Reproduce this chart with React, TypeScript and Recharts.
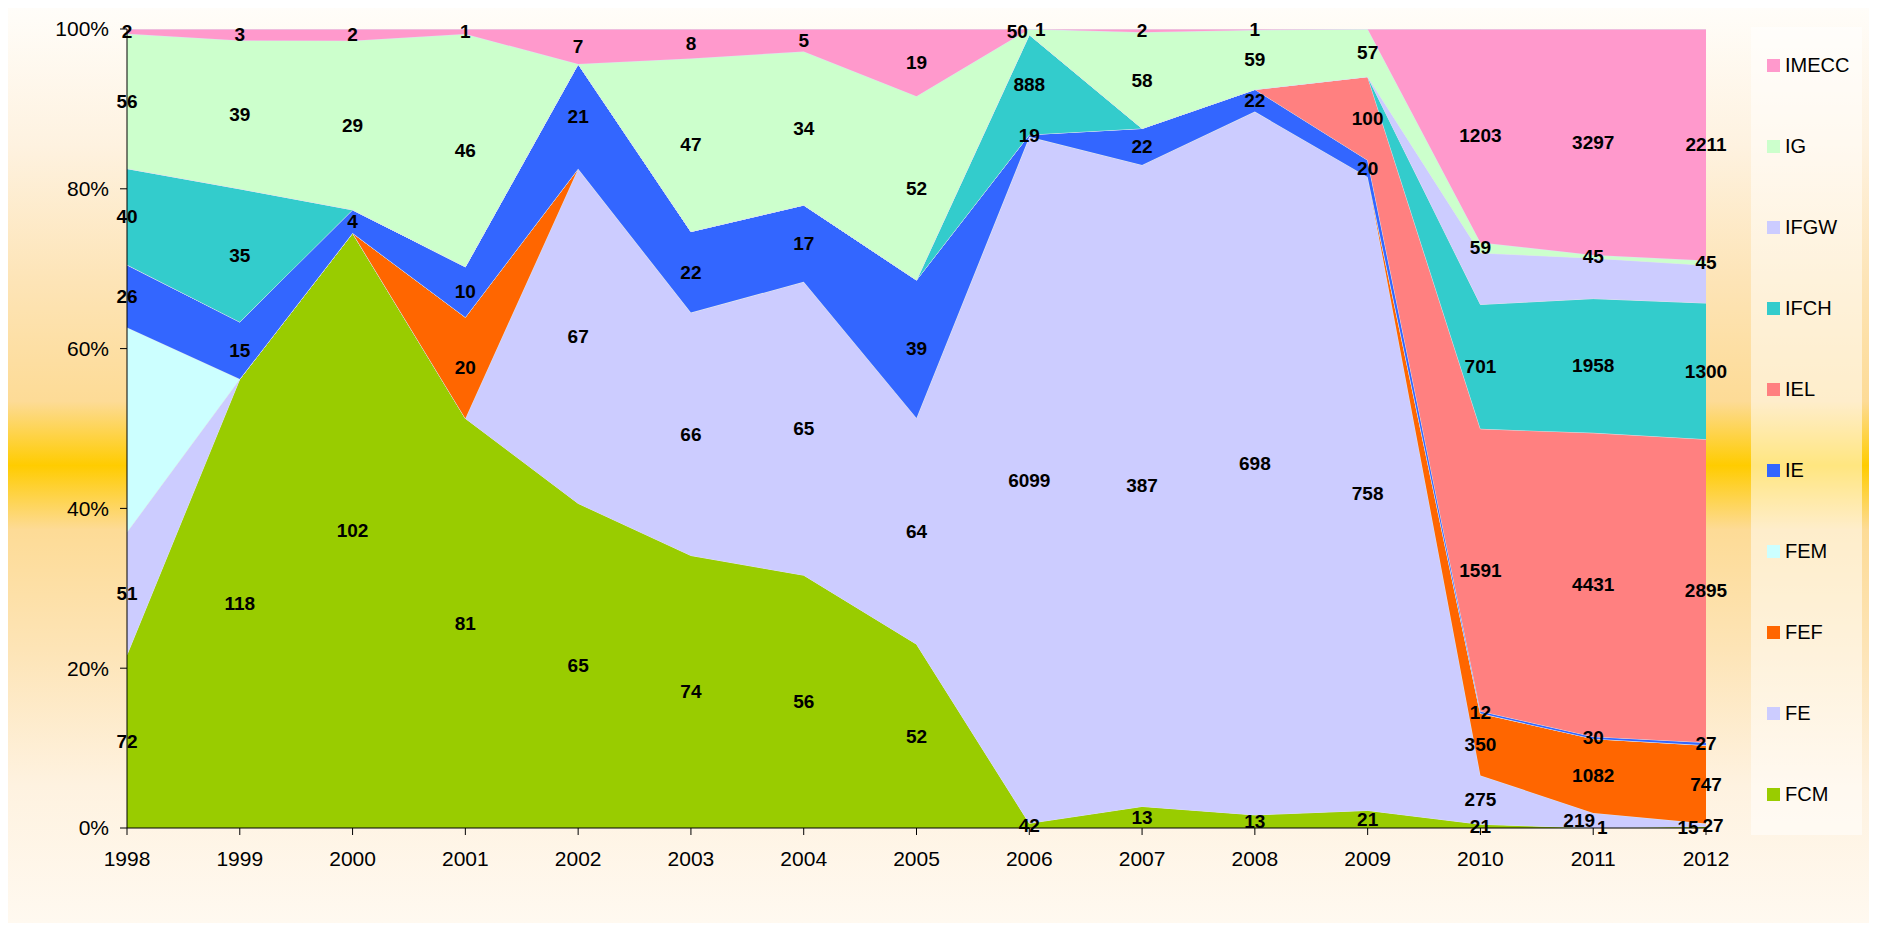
import React from "react";
import { AreaChart, Area, Line, LabelList, XAxis, YAxis } from "recharts";

const years = ["1998", "1999", "2000", "2001", "2002", "2003", "2004", "2005", "2006", "2007", "2008", "2009", "2010", "2011", "2012"];

// units per year, stacked bottom -> top
const FCM = [72, 118, 102, 81, 65, 74, 56, 52, 42, 13, 13, 21, 21, 1, 15];
const FE = [51, 0, 0, 0, 67, 66, 65, 64, 6099, 387, 698, 758, 275, 219, 27];
const FEF = [0, 0, 0, 20, 0, 0, 0, 0, 0, 0, 0, 0, 350, 1082, 747];
const FEM = [85, 0, 0, 0, 0, 0, 0, 0, 0, 0, 0, 0, 0, 0, 0];
const IE = [26, 15, 4, 10, 21, 22, 17, 39, 19, 22, 22, 20, 12, 30, 27];
const IEL = [0, 0, 0, 0, 0, 0, 0, 0, 0, 0, 0, 100, 1591, 4431, 2895];
const IFCH = [40, 35, 0, 0, 0, 0, 0, 0, 888, 0, 0, 0, 701, 1958, 1300];
const IFGW = [0, 0, 0, 0, 0, 0, 0, 0, 0, 0, 0, 0, 290, 590, 360];
const IG = [56, 39, 29, 46, 0, 47, 34, 52, 50, 58, 59, 57, 59, 45, 45];
const IMECC = [2, 3, 2, 1, 7, 8, 5, 19, 1, 2, 1, 0, 1203, 3297, 2211];

const SERIES = [
  { key: "FCM", values: FCM, color: "#99CC00", labelled: true },
  { key: "FE", values: FE, color: "#CCCCFF", labelled: true },
  { key: "FEF", values: FEF, color: "#FF6600", labelled: true },
  { key: "FEM", values: FEM, color: "#CCFFFF", labelled: false },
  { key: "IE", values: IE, color: "#3366FF", labelled: true },
  { key: "IEL", values: IEL, color: "#FF8080", labelled: true },
  { key: "IFCH", values: IFCH, color: "#33CCCC", labelled: true },
  { key: "IFGW", values: IFGW, color: "#CCCCFF", labelled: false },
  { key: "IG", values: IG, color: "#CCFFCC", labelled: true },
  { key: "IMECC", values: IMECC, color: "#FF99CC", labelled: true },
];

// labels that sit beside each other where they would collide
const NUDGE: Record<string, number> = {
  "IG-2006": -12,
  "IMECC-2006": 11,
  "FE-2011": -14,
  "FCM-2011": 9,
  "FE-2012": 7,
  "FCM-2012": -18,
};

const rows = years.map((year, i) => {
  const total = SERIES.reduce((s, d) => s + d.values[i], 0);
  const row: Record<string, any> = { year };
  let cum = 0;
  SERIES.forEach((s) => {
    const v = s.values[i];
    const pct = (v / total) * 100;
    row[s.key] = pct;
    row[s.key + "_mid"] = cum + pct / 2;
    row[s.key + "_raw"] = v;
    cum += pct;
  });
  return row;
});

const FONT = '"Liberation Sans", Arial, sans-serif';

function makeLabel(key: string, values: number[]) {
  return (props: any) => {
    const vb = props.viewBox ?? {};
    const x = props.x ?? vb.x;
    const y = props.y ?? vb.y;
    const i = props.index;
    const v = props.value ?? (i != null ? values[i] : null);
    if (!v || x == null || y == null) return null;
    const dx = i != null ? NUDGE[`${key}-${years[i]}`] ?? 0 : 0;
    return (
      <text
        x={x + dx}
        y={y}
        textAnchor="middle"
        dominantBaseline="central"
        fontFamily={FONT}
        fontWeight="bold"
        fontSize={19}
        fill="#000"
      >
        {v}
      </text>
    );
  };
}

const BG =
  "linear-gradient(to bottom, #FFFDF9 0%, #FEF2E0 15%, #FDE4B6 30%, #FDDB96 43%, #FFCC00 50%, #FDDB96 57%, #FDE4B6 70%, #FEF2E0 85%, #FFF9F0 100%)";

export default function App() {
  return (
    <div style={{ position: "relative", width: 1861, height: 915, background: BG, fontFamily: FONT }}>
      <AreaChart
        width={1861}
        height={915}
        data={rows}
        margin={{ top: 21, right: 163, bottom: 45, left: 0 }}
      >
        <XAxis
          dataKey="year"
          interval={0}
          tick={{ fontSize: 21, fill: "#000", fontFamily: FONT }}
          tickSize={7}
          tickMargin={16}
          axisLine={{ stroke: "#000" }}
          tickLine={{ stroke: "#000" }}
          height={50}
        />
        <YAxis
          type="number"
          domain={[0, 100]}
          allowDataOverflow
          ticks={[0, 20, 40, 60, 80, 100]}
          tickFormatter={(v) => `${v}%`}
          tick={{ fontSize: 21, fill: "#000", fontFamily: FONT }}
          tickSize={7}
          tickMargin={11}
          axisLine={{ stroke: "#000" }}
          tickLine={{ stroke: "#000" }}
          width={119}
        />
        {SERIES.map((s) => (
          <Area
            key={s.key}
            dataKey={s.key}
            stackId="1"
            type="linear"
            fill={s.color}
            fillOpacity={1}
            stroke="#dde4f0"
            strokeWidth={1}
            isAnimationActive={false}
          />
        ))}
        {SERIES.filter((s) => s.labelled).map((s) => (
          <Line
            key={s.key + "_lbl"}
            dataKey={s.key + "_mid"}
            stroke="none"
            dot={false}
            activeDot={false}
            legendType="none"
            isAnimationActive={false}
          >
            <LabelList dataKey={s.key + "_raw"} content={makeLabel(s.key, s.values)} />
          </Line>
        ))}
      </AreaChart>
      <div
        style={{
          position: "absolute",
          left: 1743,
          top: 19,
          width: 111,
          height: 808,
          background: "rgba(255,255,255,0.5)",
        }}
      >
        {[...SERIES].reverse().map((s, k) => (
          <div
            key={s.key}
            style={{
              position: "absolute",
              left: 16,
              top: 38 + k * 81 - 12,
              height: 24,
              display: "flex",
              alignItems: "center",
              fontSize: 20,
              color: "#000",
            }}
          >
            <span style={{ width: 13, height: 13, background: s.color, display: "inline-block", marginRight: 5 }} />
            {s.key}
          </div>
        ))}
      </div>
    </div>
  );
}
